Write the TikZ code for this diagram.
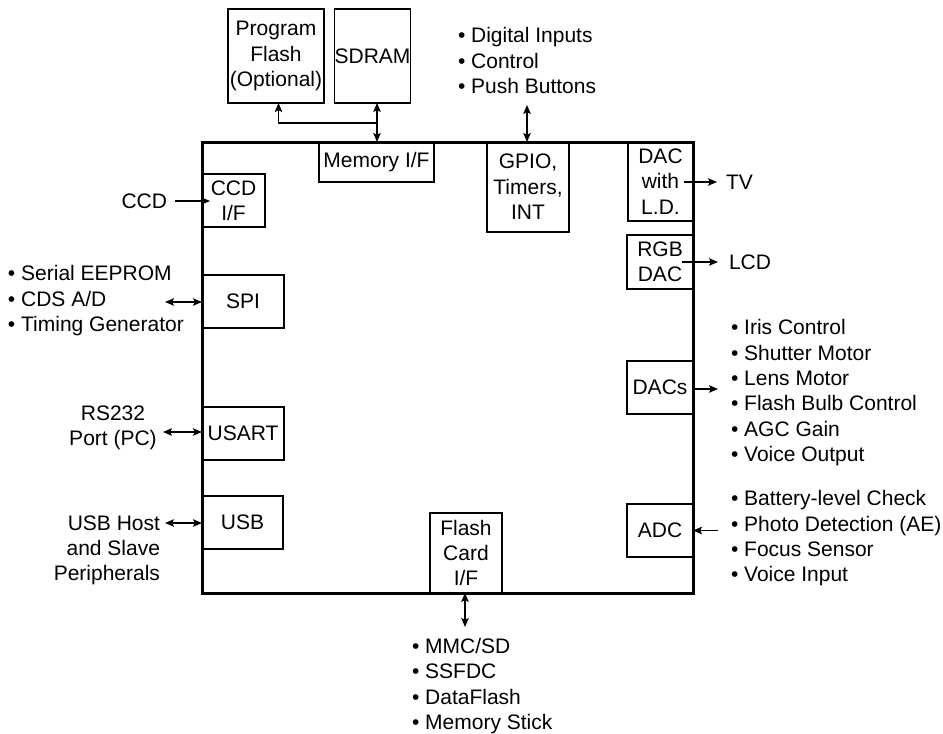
\documentclass[tikz,border=0pt]{standalone}
\usepackage{fontspec}
\setmainfont{Liberation Sans}
\usetikzlibrary{arrows.meta}
\begin{document}
\begin{tikzpicture}[x=1pt,y=-1pt,
  every node/.style={font=\fontsize{21}{25.4}\selectfont, inner sep=0pt, outer sep=0pt},
  blk/.style={draw, line width=1.2pt, align=center},
  mainbox/.style={draw, line width=3pt},
  conn/.style={line width=1.1pt},
  tipone/.style={-{Stealth[length=9pt,width=7.5pt,inset=1.8pt]}},
  tiptwo/.style={{Stealth[length=9pt,width=7.5pt,inset=1.8pt]}-{Stealth[length=9pt,width=7.5pt,inset=1.8pt]}},
  lst/.style={align=left, anchor=north west}]
\useasboundingbox (0,0) rectangle (943,734);

% external memory
\node[blk, minimum width=96, minimum height=94] (pflash) at (276,56) {Program\\Flash\\(Optional)};
\node[blk, minimum width=73, minimum height=94] (sdram) at (372.5,56) {SDRAM};

% inner blocks
\node[blk, minimum width=115, minimum height=40] (memif) at (376.5,162) {Memory I/F};
\node[blk, minimum width=82, minimum height=90] (gpio) at (528,187) {GPIO,\\Timers,\\INT};
\node[blk, minimum width=65, minimum height=79] (dactv) at (660.5,181.5) {DAC\\with\\L.D.};
\node[blk, minimum width=66, minimum height=54] (rgbdac) at (660,262) {RGB\\DAC};
\node[blk, minimum width=66, minimum height=53] (dacs) at (660,387.5) {DACs};
\node[blk, minimum width=66, minimum height=53] (adc) at (660,530.5) {ADC};
\node[blk, minimum width=63, minimum height=53] (ccdif) at (233.5,200.5) {CCD\\I/F};
\node[blk, minimum width=82, minimum height=53] (spi) at (243,301.5) {SPI};
\node[blk, minimum width=82, minimum height=53] (usart) at (243,433.5) {USART};
\node[blk, minimum width=81, minimum height=53] (usb) at (242.5,522.5) {USB};
\node[blk, minimum width=72, minimum height=80] (flashif) at (466,553) {Flash\\Card\\I/F};

% main chip
\node[mainbox, minimum width=491, minimum height=451] (main) at (447.5,367.5) {};

% outside texts
\node[lst] (dilist) at (458,27.5) {• Digital Inputs\\• Control\\• Push Buttons};
\node[lst] (spilist) at (8,265.5) {• Serial EEPROM\\• CDS A/D\\• Timing Generator};
\node[lst] (dacslist) at (731,319.5) {• Iris Control\\• Shutter Motor\\• Lens Motor\\• Flash Bulb Control\\• AGC Gain\\• Voice Output};
\node[lst] (adclist) at (731,490.5) {• Battery-level Check\\• Photo Detection (AE)\\• Focus Sensor\\• Voice Input};
\node[lst] (flashlist) at (412,638) {• MMC/SD\\• SSFDC\\• DataFlash\\• Memory Stick};
\node[align=center, anchor=north] (rs) at (113,405.5) {RS232\\Port (PC)};
\node[align=right, anchor=north east] (usbtxt) at (160,515.5) {USB Host\\and Slave\\Peripherals};
\node[anchor=east] (ccdtxt) at (167,201) {CCD};
\node[anchor=west] (tv) at (726,182) {TV};
\node[anchor=west] (lcd) at (729,262) {LCD};

% connector end points
\coordinate (junc) at (377,123);
\coordinate (pfend) at (278.5,103);
\coordinate (gpiotop) at (527,105);
\coordinate (spiL) at (165,302);
\coordinate (usartL) at (163,432);
\coordinate (usbL) at (165,523);
\coordinate (flashB) at (465,627);
\coordinate (dacsR) at (718,389);
\coordinate (adcR) at (718,530.5);

% connectors
\draw[conn, tiptwo] (junc |- sdram.south) -- (junc |- memif.north);
\draw[conn, tipone] (junc) -| (pfend);
\draw[conn, tiptwo] (gpiotop) -- (gpiotop |- gpio.north);
\draw[conn, tipone] ([xshift=-9pt]tv.west -| dactv.east) -- ([xshift=-9pt]tv.west);
\draw[conn, tipone] ([xshift=-11pt]lcd.west -| rgbdac.east) -- ([xshift=-11pt]lcd.west);
\draw[conn, tipone] (dacsR -| dacs.east) -- (dacsR);
\draw[conn, tipone] (adcR) -- (adcR -| adc.east);
\draw[conn, tipone] ([xshift=8pt]ccdtxt.east) -- ([xshift=8pt]ccdtxt.east -| ccdif.west);
\draw[conn, tiptwo] (spiL) -- (spiL -| spi.west);
\draw[conn, tiptwo] (usartL) -- (usartL -| usart.west);
\draw[conn, tiptwo] (usbL) -- (usbL -| usb.west);
\draw[conn, tiptwo] (flashB |- flashif.south) -- (flashB);
\end{tikzpicture}
\end{document}
